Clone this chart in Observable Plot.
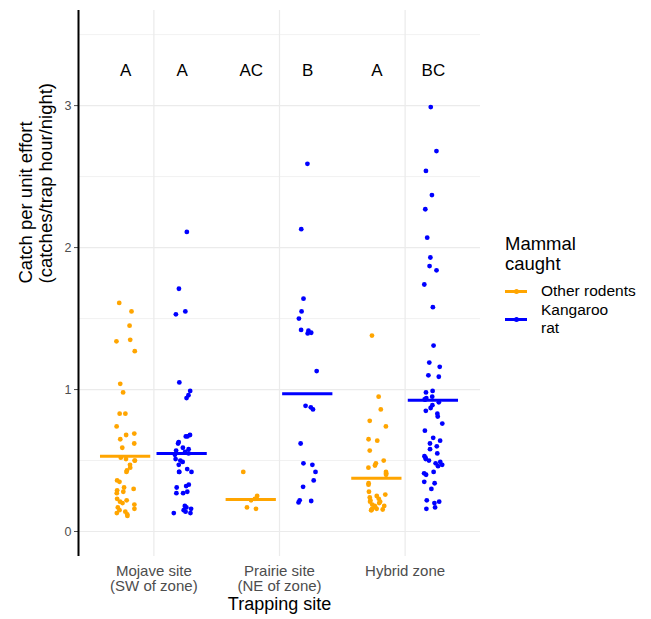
<!DOCTYPE html>
<html>
<head>
<meta charset="utf-8">
<script src="https://cdn.jsdelivr.net/npm/d3@7"></script>
<script src="https://cdn.jsdelivr.net/npm/@observablehq/plot@0.6"></script>
<style>
  body { margin: 0; background: #fff; font-family: "Liberation Sans", Arial, sans-serif; }
  #wrap { position: relative; width: 651px; height: 619px; }
  #legend { position: absolute; left: 505px; top: 234px; color: #000; }
  .ltitle { font-size: 18.5px; line-height: 20px; margin-bottom: 8px; }
  .litem { display: flex; align-items: flex-start; font-size: 15.5px; line-height: 18px; margin-bottom: 1px; }
  .key { position: relative; width: 22px; height: 18px; margin-right: 14px; flex: none; }
  .key .ln { position: absolute; left: 0; right: 0; top: 7.5px; height: 3px; }
  .key .pt { position: absolute; left: 8.5px; top: 6.5px; width: 5px; height: 5px; border-radius: 50%; }
  .key.two { height: 36px; }
  .key.two .ln { top: 16.5px; }
  .key.two .pt { top: 15.5px; }
</style>
</head>
<body>
<div id="wrap"><div id="legend"></div></div>
<script>
// ---- data ----
const sites = ["Mojave site\n(SW of zone)", "Prairie site\n(NE of zone)", "Hybrid zone"];
const groups = ["Other rodents", "Kangaroo rat"];
const groupLabels = ["Other rodents", "Kangaroo\nrat"];
const colors = ["#FFA500", "#0000FF"];

const mojaveOther = [1.61,1.55,1.45,1.35,1.34,1.27,1.04,0.98,0.83,0.83,0.74,0.69,0.68,0.65,0.62,0.59,0.52,0.51,0.50,0.50,0.47,0.45,0.43,0.42,0.36,0.35,0.31,0.30,0.29,0.28,0.27,0.23,0.22,0.21,0.20,0.19,0.17,0.16,0.15,0.14,0.13,0.12,0.11];
const mojaveKrat = [2.11,1.71,1.55,1.53,1.05,0.99,0.96,0.94,0.68,0.67,0.67,0.63,0.62,0.59,0.58,0.57,0.56,0.55,0.54,0.51,0.50,0.49,0.47,0.44,0.42,0.42,0.42,0.33,0.32,0.31,0.28,0.27,0.27,0.18,0.17,0.16,0.15,0.14,0.13,0.13];
const prairieOther = [0.42,0.25,0.23,0.22,0.17,0.16];
const prairieKrat = [2.59,2.13,1.64,1.55,1.50,1.42,1.415,1.40,1.395,1.13,0.885,0.875,0.86,0.62,0.48,0.47,0.42,0.36,0.315,0.22,0.215,0.205];
const hybridOther = [1.38,0.95,0.86,0.78,0.74,0.65,0.64,0.57,0.50,0.48,0.465,0.45,0.42,0.41,0.40,0.34,0.33,0.28,0.26,0.25,0.24,0.23,0.22,0.21,0.21,0.20,0.19,0.18,0.18,0.17,0.16,0.16,0.155,0.15,0.15];
const hybridKrat = [2.99,2.68,2.54,2.37,2.27,2.07,1.93,1.87,1.84,1.74,1.58,1.31,1.19,1.16,1.10,1.09,0.99,0.98,0.95,0.94,0.93,0.93,0.91,0.89,0.87,0.85,0.83,0.81,0.76,0.71,0.66,0.64,0.62,0.60,0.58,0.55,0.53,0.52,0.51,0.50,0.49,0.48,0.47,0.46,0.42,0.41,0.40,0.35,0.34,0.30,0.22,0.21,0.20,0.17,0.16];

// summary line per site/group (Other, Kangaroo rat)
const summaryOther = [0.53, 0.225, 0.375];
const summaryKrat = [0.55, 0.97, 0.925];
// significance letters per site/group
const lettersOther = ["A", "AC", "A"];
const lettersKrat = ["A", "B", "BC"];

const yMajor = [0, 1, 2, 3];
const yMinor = [0.5, 1.5, 2.5, 3.5];

// ---- build tables ----
const series = [[mojaveOther, mojaveKrat], [prairieOther, prairieKrat], [hybridOther, hybridKrat]];
const dodge = [-0.225, 0.225];
const rand = d3.randomUniform.source(d3.randomLcg(0.137))(-0.075, 0.075);
const points = [];
series.forEach((pair, s) => pair.forEach((vals, g) => vals.forEach(v =>
  points.push({site: s + 1, group: groups[g], value: v, x: s + 1 + dodge[g] + rand()}))));
const summary = [];
const letters = [];
[summaryOther, summaryKrat].forEach((arr, g) => arr.forEach((v, s) =>
  summary.push({group: groups[g], value: v, x: s + 1 + dodge[g]})));
[lettersOther, lettersKrat].forEach((arr, g) => arr.forEach((t, s) =>
  letters.push({label: t, x: s + 1 + dodge[g], y: 3.25})));

const chart = Plot.plot({
  width: 651, height: 619,
  marginTop: 10, marginBottom: 63, marginLeft: 78, marginRight: 171,
  x: {domain: [0.4, 3.6], axis: null},
  y: {domain: [-0.176, 3.67], axis: null},
  color: {domain: groups, range: colors},
  style: {fontFamily: "'Liberation Sans', Arial, sans-serif", background: "white"},
  marks: [
    Plot.ruleY(yMinor, {stroke: "#ebebeb", strokeWidth: 0.7}),
    Plot.ruleY(yMajor, {stroke: "#ebebeb", strokeWidth: 1.2}),
    Plot.ruleX([1, 2, 3], {stroke: "#ebebeb", strokeWidth: 1.2}),
    Plot.axisY({ticks: yMajor, tickSize: 4, tickPadding: 3, fontSize: 12.5, color: "#4d4d4d", label: null, tickFormat: d => String(d)}),
    Plot.axisX({ticks: [1, 2, 3], tickSize: 0, tickPadding: 8, fontSize: 15, color: "#4d4d4d", label: null, tickFormat: d => sites[d - 1], lineHeight: 1.05}),
    Plot.ruleX([0.4], {stroke: "#000", strokeWidth: 2}),
    Plot.dot(points, {x: "x", y: "value", fill: "group", r: 2.4, stroke: "none"}),
    Plot.ruleY(summary, {y: "value", x1: d => d.x - 0.2, x2: d => d.x + 0.2, stroke: "group", strokeWidth: 3}),
    Plot.text(letters, {x: "x", y: "y", text: "label", fontSize: 17, fill: "#000"}),
    Plot.text(["Catch per unit effort\n(catches/trap hour/night)"], {frameAnchor: "left", dx: -43, rotate: -90, fontSize: 18.5, lineHeight: 1.1, fill: "#000"}),
    Plot.text(["Trapping site"], {frameAnchor: "bottom", dy: 53, fontSize: 18, fill: "#000"})
  ]
});
document.getElementById("wrap").prepend(chart);

// legend
const legend = document.getElementById("legend");
legend.innerHTML = `<div class="ltitle">Mammal<br>caught</div>` +
  groups.map((g, i) => {
    const lbl = groupLabels[i];
    const two = lbl.includes("\n");
    return `<div class="litem"><div class="key${two ? " two" : ""}"><div class="ln" style="background:${colors[i]}"></div><div class="pt" style="background:${colors[i]}"></div></div><div>${lbl.replace("\n", "<br>")}</div></div>`;
  }).join("");
</script>
</body>
</html>
